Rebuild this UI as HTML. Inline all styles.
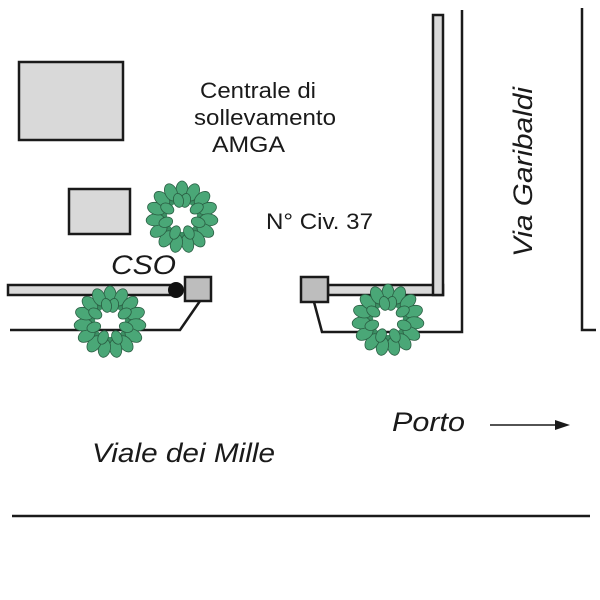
<!DOCTYPE html>
<html><head><style>body{margin:0;background:#fff}svg{display:block}</style></head><body>
<svg width="600" height="600" viewBox="0 0 600 600" xmlns="http://www.w3.org/2000/svg" font-family="Liberation Sans, sans-serif">
<defs>
<g id="tree">
<circle r="22" fill="none" stroke="#3b8f63" stroke-width="14"/>
<g fill="#4aa777" stroke="#2a5e43" stroke-width="0.8">
<ellipse cx="0" cy="-27" rx="6" ry="9"/><ellipse cx="0" cy="-27" rx="6" ry="9" transform="rotate(24)"/>
<ellipse cx="0" cy="-27" rx="6" ry="9" transform="rotate(48)"/><ellipse cx="0" cy="-27" rx="6" ry="9" transform="rotate(72)"/>
<ellipse cx="0" cy="-27" rx="6" ry="9" transform="rotate(96)"/><ellipse cx="0" cy="-27" rx="6" ry="9" transform="rotate(120)"/>
<ellipse cx="0" cy="-27" rx="6" ry="9" transform="rotate(144)"/><ellipse cx="0" cy="-27" rx="6" ry="9" transform="rotate(168)"/>
<ellipse cx="0" cy="-27" rx="6" ry="9" transform="rotate(192)"/><ellipse cx="0" cy="-27" rx="6" ry="9" transform="rotate(216)"/>
<ellipse cx="0" cy="-27" rx="6" ry="9" transform="rotate(240)"/><ellipse cx="0" cy="-27" rx="6" ry="9" transform="rotate(264)"/>
<ellipse cx="0" cy="-27" rx="6" ry="9" transform="rotate(288)"/><ellipse cx="0" cy="-27" rx="6" ry="9" transform="rotate(312)"/>
<ellipse cx="0" cy="-27" rx="6" ry="9" transform="rotate(336)"/>
<ellipse cx="0" cy="-17" rx="5" ry="7" transform="rotate(12)"/><ellipse cx="0" cy="-17" rx="5" ry="7" transform="rotate(60)"/>
<ellipse cx="0" cy="-17" rx="5" ry="7" transform="rotate(108)"/><ellipse cx="0" cy="-17" rx="5" ry="7" transform="rotate(156)"/>
<ellipse cx="0" cy="-17" rx="5" ry="7" transform="rotate(204)"/><ellipse cx="0" cy="-17" rx="5" ry="7" transform="rotate(252)"/>
<ellipse cx="0" cy="-17" rx="5" ry="7" transform="rotate(300)"/><ellipse cx="0" cy="-17" rx="5" ry="7" transform="rotate(348)"/>
</g>
</g>
</defs>
<g stroke="#1a1a1a" stroke-width="2.5" fill="#d9d9d9">
<rect x="19" y="62" width="104" height="78"/>
<rect x="69" y="189" width="61" height="45"/>
<rect x="8" y="285" width="170" height="10"/>
<rect x="328" y="285" width="115" height="10"/>
<rect x="433" y="15" width="10" height="280"/>
</g>
<rect x="434.5" y="283" width="7" height="10" fill="#d9d9d9"/>
<g stroke="#1a1a1a" stroke-width="2.5" fill="#bdbdbd">
<rect x="185" y="277" width="26" height="24"/>
<rect x="301" y="277" width="27" height="25"/>
</g>
<circle cx="176" cy="290" r="8" fill="#111"/>
<g stroke="#1a1a1a" stroke-width="2.5" fill="none">
<polyline points="200,301 180,330 10,330"/>
<polyline points="314,302 322,332 462,332 462,10"/>
<polyline points="582,8 582,330 596,330"/>
<line x1="12" y1="516" x2="590" y2="516"/>
<line x1="490" y1="425" x2="558" y2="425" stroke-width="1.5"/>
</g>
<polygon points="570,425 555,420 555,430" fill="#1a1a1a"/>
<use href="#tree" x="182" y="217"/>
<use href="#tree" x="110" y="322"/>
<use href="#tree" x="388" y="320"/>
<g fill="#1a1a1a" font-size="22">
<text x="200" y="98" textLength="116" lengthAdjust="spacingAndGlyphs">Centrale di</text>
<text x="194" y="125" textLength="142" lengthAdjust="spacingAndGlyphs">sollevamento</text>
<text x="212" y="152" textLength="73" lengthAdjust="spacingAndGlyphs">AMGA</text>
<text x="266" y="229" textLength="107" lengthAdjust="spacingAndGlyphs">N° Civ. 37</text>
</g>
<g fill="#1a1a1a" font-size="27" font-style="italic">
<text x="111" y="274" textLength="65" lengthAdjust="spacingAndGlyphs">CSO</text>
<text x="392" y="431" textLength="73" lengthAdjust="spacingAndGlyphs">Porto</text>
<text x="92" y="462" textLength="183" lengthAdjust="spacingAndGlyphs">Viale dei Mille</text>
<text transform="translate(532,257) rotate(-90)" textLength="170" lengthAdjust="spacingAndGlyphs">Via Garibaldi</text>
</g>
</svg>
</body></html>
